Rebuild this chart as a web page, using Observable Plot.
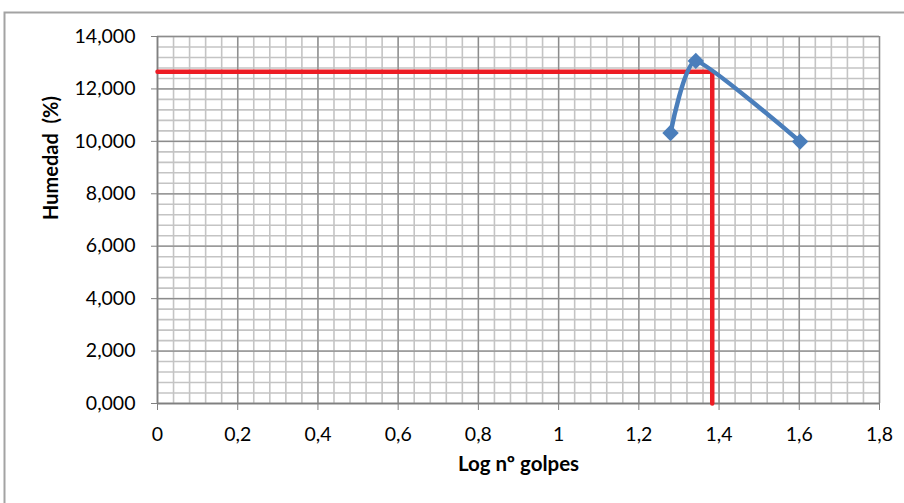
<!DOCTYPE html>
<html>
<head>
<meta charset="utf-8">
<script src="https://cdn.jsdelivr.net/npm/d3@7"></script>
<script src="https://cdn.jsdelivr.net/npm/@observablehq/plot@0.6"></script>
<style>
  html, body { margin: 0; padding: 0; background: #fff; }
</style>
</head>
<body>
<div id="chart"></div>
<script>
// Data
const logGolpes = [1.279, 1.342, 1.602];
const humedad = [10.32, 13.07, 9.99];

// Red guide (liquid limit reading)
const guideX = [0, 1.383, 1.383];
const guideY = [12.66, 12.66, 0];

// Ticks
const xMajor = [0, 0.2, 0.4, 0.6, 0.8, 1, 1.2, 1.4, 1.6, 1.8];
const yMajor = [0, 2, 4, 6, 8, 10, 12, 14];
const xMinor = d3.range(0, 45).map(i => +(i * 0.04).toFixed(2)).concat([1.8]);
const yMinor = d3.range(0, 36).map(i => +(i * 0.4).toFixed(2));

const points = logGolpes.map((x, i) => ({x, y: humedad[i]}));
const guide = guideX.map((x, i) => ({x, y: guideY[i]}));

const fmtX = d => String(d).replace(".", ",");
const fmtY = d => d3.format(".3f")(d).replace(".", ",");

const plot = Plot.plot({
  width: 904,
  height: 503,
  marginLeft: 157,
  marginRight: 25,
  marginTop: 36,
  marginBottom: 100,
  style: {fontFamily: "Lato, 'Open Sans', sans-serif", fontSize: "19px", background: "#fff", color: "#000"},
  x: {domain: [0, 1.8]},
  y: {domain: [0, 14]},
  marks: [
    Plot.ruleX(xMinor, {stroke: "#c4c4c4", strokeWidth: 1.6}),
    Plot.ruleY(yMinor, {stroke: "#c4c4c4", strokeWidth: 1.6}),
    Plot.ruleX(xMajor, {stroke: "#8c8c8c", strokeWidth: 1.3}),
    Plot.ruleY(yMajor, {stroke: "#8c8c8c", strokeWidth: 1.3}),
    Plot.axisX({ticks: xMajor, tickFormat: fmtX, tickSize: 7, tickPadding: 17, stroke: "#808080", fill: "#000", fontSize: 19.5, label: null}),
    Plot.axisY({ticks: yMajor, tickFormat: fmtY, tickSize: 6, tickPadding: 16, stroke: "#808080", fill: "#000", fontSize: 19.5, label: null}),
    Plot.ruleX([0], {stroke: "#808080", strokeWidth: 1.5}),
    Plot.ruleY([0], {stroke: "#808080", strokeWidth: 1.5}),
    Plot.line(guide, {x: "x", y: "y", stroke: "#ed1c24", strokeWidth: 4.5, curve: "linear"}),
    Plot.line(points, {x: "x", y: "y", stroke: "#4a7ebb", strokeWidth: 4.5, curve: "cardinal", tension: 0.5}),
    Plot.dot(points, {x: "x", y: "y", symbol: "diamond2", r: 7.4, fill: "#4a7ebb", stroke: "none"}),
    Plot.text(["Log nº golpes"], {frameAnchor: "bottom", dy: 67, fontWeight: "bold", fontSize: 20.5, fill: "#000"}),
    Plot.text(["Humedad  (%)"], {frameAnchor: "left", dx: -106, rotate: -90, fontWeight: "bold", fontSize: 20, fill: "#000"})
  ]
});

d3.select(plot).append("rect")
  .attr("x", 4.5).attr("y", 12.5)
  .attr("width", 1000).attr("height", 600)
  .attr("fill", "none").attr("stroke", "#a3a3a3").attr("stroke-width", 2);

document.getElementById("chart").appendChild(plot);
</script>
</body>
</html>
